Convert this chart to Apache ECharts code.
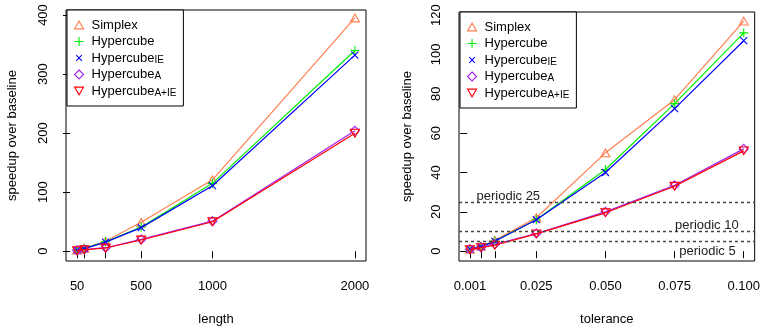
<!DOCTYPE html>
<html>
<head>
<meta charset="utf-8">
<script src="https://cdn.jsdelivr.net/npm/echarts@6/dist/echarts.min.js"></script>
<style>
  html, body { margin: 0; padding: 0; background: #fff; }
  #chart { width: 763px; height: 331px; }
</style>
</head>
<body>
<div id="chart"></div>
<script>
// ---- data ----
const seriesNames = ['Simplex', 'Hypercube', 'HypercubeIE', 'HypercubeA', 'HypercubeA+IE'];

const lengthX = [50, 100, 250, 500, 1000, 2000];
const lenSimplex = [2, 5, 17, 49, 121, 395];
const lenHyper = [2, 5, 16, 41, 115, 340];
const lenHyperIE = [2, 4.5, 15.5, 40, 111, 332];
const lenHyperA = [1.5, 3, 6, 20, 51, 204];
const lenHyperAIE = [1, 2.5, 5.5, 19, 50, 200];

const tolX = [0.001, 0.005, 0.01, 0.025, 0.05, 0.075, 0.1];
const tolSimplex = [1, 2.5, 5.5, 17, 50, 77, 117];
const tolHyper = [1, 2.3, 5.2, 16, 41.5, 75, 111];
const tolHyperIE = [1, 2.3, 5, 16, 40, 72.5, 107];
const tolHyperA = [1, 2, 3.5, 9, 20, 33.5, 52];
const tolHyperAIE = [0.8, 1.8, 3, 8.8, 19.5, 33, 51];

const periodicLevels = [25, 10, 5];
const periodicLabels = ['periodic 25', 'periodic 10', 'periodic 5'];

const lengthTicks = [50, 100, 250, 500, 1000, 2000];
const lengthTickLabels = [50, 500, 1000, 2000];
const lengthYTicks = [0, 100, 200, 300, 400];
const tolTicks = [0.001, 0.005, 0.01, 0.025, 0.05, 0.075, 0.1];
const tolTickLabels = [0.001, 0.025, 0.05, 0.075, 0.1];
const tolYTicks = [0, 20, 40, 60, 80, 100, 120];

// ---- styles ----
const FONT = '"Liberation Sans", Arial, Helvetica, sans-serif';
const colors = ['#FF7F50', '#00EE00', '#0000FF', '#A020F0', '#FF0000'];
const symbols = [
  'path://M5,0L10,8.66L0,8.66Z',
  'path://M5,0L5,10M0,5L10,5',
  'path://M0,0L10,10M10,0L0,10',
  'diamond',
  'path://M0,0L10,0L5,8.66Z'
];
const legendIcons = [
  'path://M5,0L10,8.66L0,8.66Z',
  'path://M5,0.5L5,9.5M0.5,5L9.5,5',
  'path://M-1.5,-1.5M1,1L9,9M9,1L1,9M11.5,11.5',
  'diamond',
  'path://M0,0L10,0L5,8.66Z'
];
const symbolSizes = [9, 9, 7, 9, 9];
const legendLabel = {
  'Simplex': '{p|}{m|Simplex}',
  'Hypercube': '{p|}{m|Hypercube}',
  'HypercubeIE': '{p|}{m|Hypercube}{s|IE}',
  'HypercubeA': '{p|}{m|Hypercube}{s|A}',
  'HypercubeA+IE': '{p|}{m|Hypercube}{s|A+IE}'
};

function pairs(xs, ys) { return xs.map((x, i) => [x, ys[i]]); }

const lenSets = [lenSimplex, lenHyper, lenHyperIE, lenHyperA, lenHyperAIE];
const tolSets = [tolSimplex, tolHyper, tolHyperIE, tolHyperA, tolHyperAIE];

function makeSeries(idx, xs, ys, gridIdx) {
  return {
    name: seriesNames[idx],
    type: 'line',
    xAxisIndex: gridIdx,
    yAxisIndex: gridIdx,
    data: pairs(xs, ys),
    symbol: symbols[idx],
    symbolSize: symbolSizes[idx],
    symbolKeepAspect: true,
    showAllSymbol: true,
    lineStyle: { color: colors[idx], width: 1.2 },
    itemStyle: { color: 'rgba(0,0,0,0)', borderColor: colors[idx], borderWidth: 1.1 },
    emphasis: { disabled: true },
    animation: false,
    z: 2 + idx * 0.01
  };
}

const series = [];
lenSets.forEach((s, i) => series.push(makeSeries(i, lengthX, s, 0)));
tolSets.forEach((s, i) => series.push(makeSeries(i, tolX, s, 1)));

// periodic reference lines on the tolerance panel
const markPos = ['insideStartTop', 'insideEndTop', 'insideEndBottom'];
const markPad = [[0, 0, 0, 18], [0, 16, 0, 0], [0, 15, 0, 0]];
const markDist = [-0.5, 0, 4];
series.push({
  name: 'periodic',
  type: 'line',
  xAxisIndex: 1,
  yAxisIndex: 1,
  data: [],
  silent: true,
  markLine: {
    silent: true,
    symbol: 'none',
    animation: false,
    lineStyle: { color: '#444', width: 1.3, type: [3, 3] },
    data: periodicLevels.map((v, i) => ({
      yAxis: v,
      label: {
        show: true,
        position: markPos[i],
        formatter: periodicLabels[i],
        color: '#222',
        fontFamily: FONT,
        fontSize: 13,
        lineHeight: 12,
        distance: markDist[i],
        padding: markPad[i]
      }
    }))
  }
});

function xAxisDef(gridIdx, min, max, ticks, labels, name, fmt) {
  return {
    type: 'value', gridIndex: gridIdx, min: min, max: max,
    name: name, nameLocation: 'middle', nameGap: 52,
    nameTextStyle: { fontFamily: FONT, fontSize: 13, color: '#000' },
    axisLine: { show: false },
    axisTick: { show: true, inside: false, length: 7, customValues: ticks, lineStyle: { color: '#000', width: 1 } },
    axisLabel: { show: true, customValues: labels, margin: 18.5, fontFamily: FONT, fontSize: 13, color: '#000', formatter: fmt },
    splitLine: { show: false }
  };
}
function yAxisDef(gridIdx, min, max, ticks, gap) {
  return {
    type: 'value', gridIndex: gridIdx, min: min, max: max,
    name: 'speedup over baseline', nameLocation: 'middle', nameGap: gap,
    nameTextStyle: { fontFamily: FONT, fontSize: 13, color: '#000' },
    axisLine: { show: false },
    axisTick: { show: true, inside: false, length: 7, customValues: ticks, lineStyle: { color: '#000', width: 1 } },
    axisLabel: { show: true, customValues: ticks, rotate: 90, margin: 16, fontFamily: FONT, fontSize: 13, color: '#000' },
    splitLine: { show: false }
  };
}

function legendDef(left, top) {
  return {
    orient: 'vertical',
    left: left, top: top,
    data: seriesNames.map((n, i) => ({
      name: n,
      icon: legendIcons[i],
      itemStyle: { color: 'rgba(0,0,0,0)', borderColor: colors[i], borderWidth: 1.1 }
    })),
    itemWidth: 9, itemHeight: 9, itemGap: 2.5,
    padding: [8, 7, 8, 7],
    backgroundColor: '#fff',
    borderColor: '#000', borderWidth: 1, borderRadius: 0,
    selectedMode: false,
    formatter: n => legendLabel[n],
    textStyle: {
      fontFamily: FONT, fontSize: 13, lineHeight: 14, color: '#000',
      rich: {
        p: { width: 3, lineHeight: 14 },
        m: { fontFamily: FONT, fontSize: 13, lineHeight: 14, color: '#000' },
        s: { fontFamily: FONT, fontSize: 10, lineHeight: 8, verticalAlign: 'bottom', color: '#000' }
      }
    }
  };
}

const option = {
  backgroundColor: '#fff',
  animation: false,
  textStyle: { fontFamily: FONT },
  grid: [
    { left: 66, right: 397, top: 10, bottom: 70, show: true, borderColor: '#000', borderWidth: 1, backgroundColor: 'transparent' },
    { left: 459, right: 5, top: 12, bottom: 69, show: true, borderColor: '#000', borderWidth: 1, backgroundColor: 'transparent' }
  ],
  xAxis: [
    xAxisDef(0, -28, 2078, lengthTicks, lengthTickLabels, 'length', v => String(v)),
    xAxisDef(1, -0.00296, 0.10396, tolTicks, tolTickLabels, 'tolerance', v => Number(v).toFixed(3))
  ],
  yAxis: [
    yAxisDef(0, -16.5, 408.5, lengthYTicks, 47),
    yAxisDef(1, -5, 121.6, tolYTicks, 45)
  ],
  legend: [legendDef(67, 10), legendDef(460, 12)],
  series: series
};

const chart = echarts.init(document.getElementById('chart'), null, { renderer: 'canvas' });
chart.setOption(option);
</script>
</body>
</html>
